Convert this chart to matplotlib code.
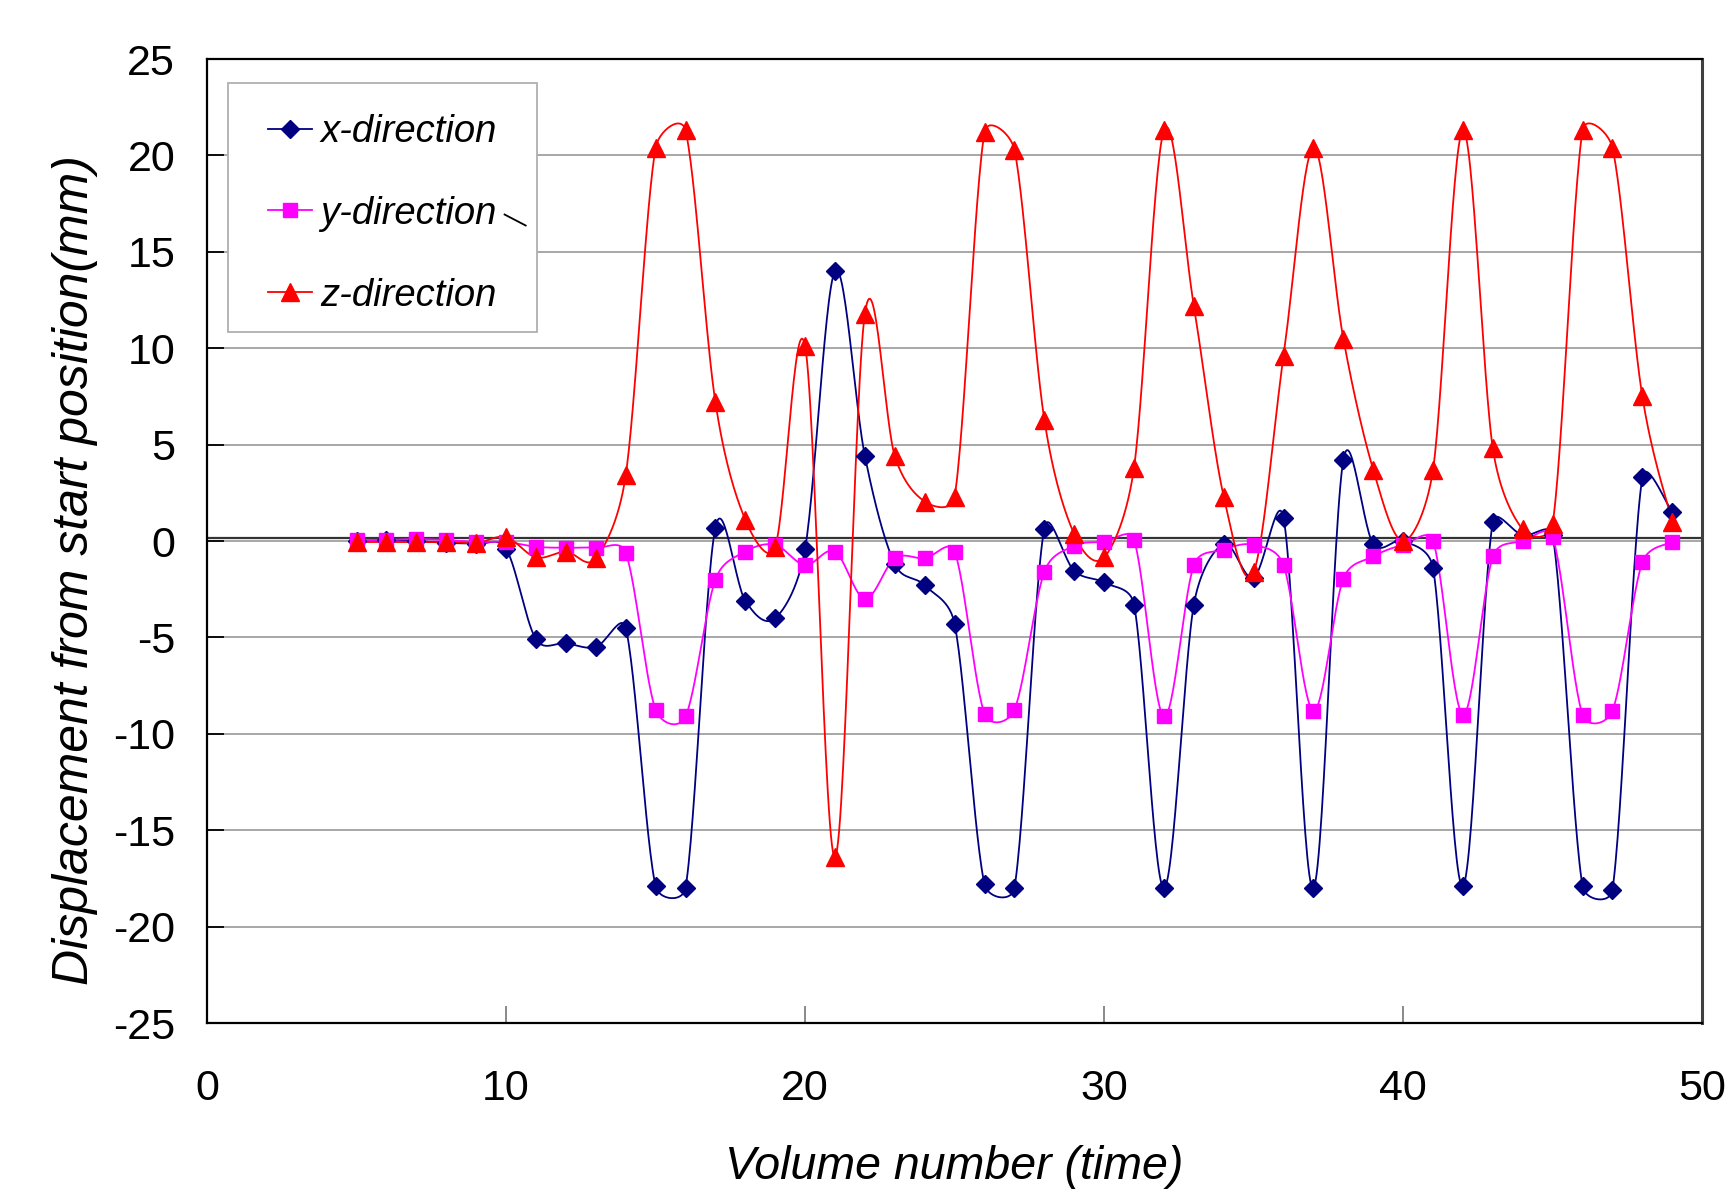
import numpy as np
import matplotlib
matplotlib.use("Agg")
import matplotlib.pyplot as plt
from matplotlib.lines import Line2D
from matplotlib.patches import Rectangle

# volume numbers (time)
volumes = list(range(5, 50))

x_dir = [0.0, 0.05, 0.0, -0.1, -0.15, -0.4, -5.1, -5.3, -5.5, -4.5,
         -17.9, -18.0, 0.7, -3.1, -4.0, -0.4, 14.0, 4.4, -1.2, -2.3,
         -4.3, -17.8, -18.0, 0.65, -1.55, -2.15, -3.3, -18.0, -3.3, -0.15,
         -1.9, 1.2, -18.0, 4.2, -0.15, 0.0, -1.4, -17.9, 1.0, 0.3,
         0.3, -17.9, -18.1, 3.3, 1.5]

y_dir = [0.05, 0.05, 0.1, 0.05, -0.05, -0.05, -0.3, -0.35, -0.35, -0.6,
         -8.75, -9.1, -2.0, -0.55, -0.2, -1.25, -0.55, -3.0, -0.9, -0.9,
         -0.55, -8.95, -8.75, -1.6, -0.25, -0.05, 0.05, -9.1, -1.25, -0.45,
         -0.2, -1.25, -8.8, -1.95, -0.8, -0.2, 0.0, -9.0, -0.8, 0.0,
         0.2, -9.0, -8.8, -1.1, -0.05]

z_dir = [-0.05, -0.05, -0.05, -0.05, -0.1, 0.2, -0.85, -0.55, -0.9, 3.4,
         20.4, 21.3, 7.2, 1.1, -0.3, 10.1, -16.4, 11.8, 4.4, 2.05,
         2.3, 21.2, 20.3, 6.3, 0.35, -0.85, 3.8, 21.3, 12.2, 2.3,
         -1.6, 9.6, 20.4, 10.5, 3.7, 0.0, 3.7, 21.3, 4.8, 0.6,
         0.9, 21.3, 20.4, 7.5, 1.0]

series_names = ["x-direction", "y-direction", "z-direction"]


def smooth_curve(ax, xs, ys, n=30):
    # spreadsheet-style smoothed line: bezier in screen space, control points
    # at 1/6 of the neighbour chord but never more than half the segment
    pts = ax.transData.transform(np.column_stack([xs, ys]).astype(float))
    out = [pts[0]]
    t = np.linspace(0, 1, n)[1:, None]
    for i in range(len(pts) - 1):
        p0 = pts[i - 1] if i > 0 else pts[i]
        p1, p2 = pts[i], pts[i + 1]
        p3 = pts[i + 2] if i + 2 < len(pts) else pts[i + 1]
        d12 = np.hypot(*(p2 - p1))
        d02 = np.hypot(*(p2 - p0)) or 1
        d13 = np.hypot(*(p3 - p1)) or 1
        c1 = p1 + (p2 - p0) * min(1 / 6, 0.5 * d12 / d02)
        c2 = p2 - (p3 - p1) * min(1 / 6, 0.5 * d12 / d13)
        seg = (1 - t) ** 3 * p1 + 3 * (1 - t) ** 2 * t * c1 + 3 * (1 - t) * t ** 2 * c2 + t ** 3 * p2
        out.extend(seg)
    out = ax.transData.inverted().transform(np.array(out))
    return out[:, 0], out[:, 1]


plt.rcParams["font.family"] = ["Liberation Sans", "DejaVu Sans"]
plt.rcParams["axes.unicode_minus"] = False

fig = plt.figure(figsize=(17.3, 11.9), dpi=100)
ax = fig.add_axes([0.1197, 0.1403, 0.8642, 0.8101])
ax.set_xlim(0, 50)
ax.set_ylim(-25, 25)

styles = [("#000080", "D", 9.0), ("#FF00FF", "s", 10.5), ("#FF0000", "^", 13.0)]
handles = []
for vals, name, (col, mk, ms) in zip([x_dir, y_dir, z_dir], series_names, styles):
    sx, sy = smooth_curve(ax, volumes, vals)
    ax.plot(sx, sy, color=col, lw=1.3, zorder=3)
    ax.plot(volumes, vals, linestyle="none", marker=mk, ms=ms, color=col,
            markeredgecolor=col, zorder=4)
    handles.append(Line2D([], [], color=col, lw=1.3, marker=mk, ms=ms,
                          markeredgecolor=col, label=name))

ax.set_xticks(range(0, 51, 10))
ax.set_yticks(range(-25, 26, 5))
ax.yaxis.grid(True, color="#A0A0A0", lw=1.3)
ax.set_axisbelow(True)
ax.axhline(0.15, color="#333333", lw=1.6, zorder=2)

ax.tick_params(axis="y", direction="in", length=12, width=1.3, pad=23, labelsize=31)
ax.tick_params(axis="x", direction="in", length=12, width=1.3, pad=33, labelsize=31,
               color="#808080")
for side in ["left", "bottom", "top"]:
    ax.spines[side].set_linewidth(1.6)
    ax.spines[side].set_color("black")
ax.spines["right"].set_linewidth(2.2)
ax.spines["right"].set_color("#404040")

ax.set_ylabel("Displacement from start position(mm)", fontsize=36, style="italic")
ax.yaxis.set_label_coords(-0.073, 0.47)
ax.set_xlabel("Volume number (time)", fontsize=33.5, style="italic")
ax.xaxis.set_label_coords(0.5, -0.127)
ax.xaxis.label.set_va("top")

# legend frame drawn separately so the padding can match the original
ax.add_patch(Rectangle((0.01405, 0.7168), 0.2067, 0.2583, transform=ax.transAxes,
                       facecolor="white", edgecolor="#B0B0B0", lw=1.3, zorder=5))
leg = ax.legend(handles=handles, loc="upper left", bbox_to_anchor=(0.0408, 0.943),
                borderaxespad=0, borderpad=0, frameon=False, handlelength=1.15,
                handletextpad=0.22, labelspacing=1.2,
                prop={"style": "italic", "size": 27.5})
leg.set_zorder(6)

# small stray stroke next to the legend, as in the original
ax.add_line(Line2D([0.199, 0.2131], [0.8387, 0.8273], transform=ax.transAxes,
                   color="black", lw=1.3, zorder=7))

fig.savefig("out.png", dpi=100)
